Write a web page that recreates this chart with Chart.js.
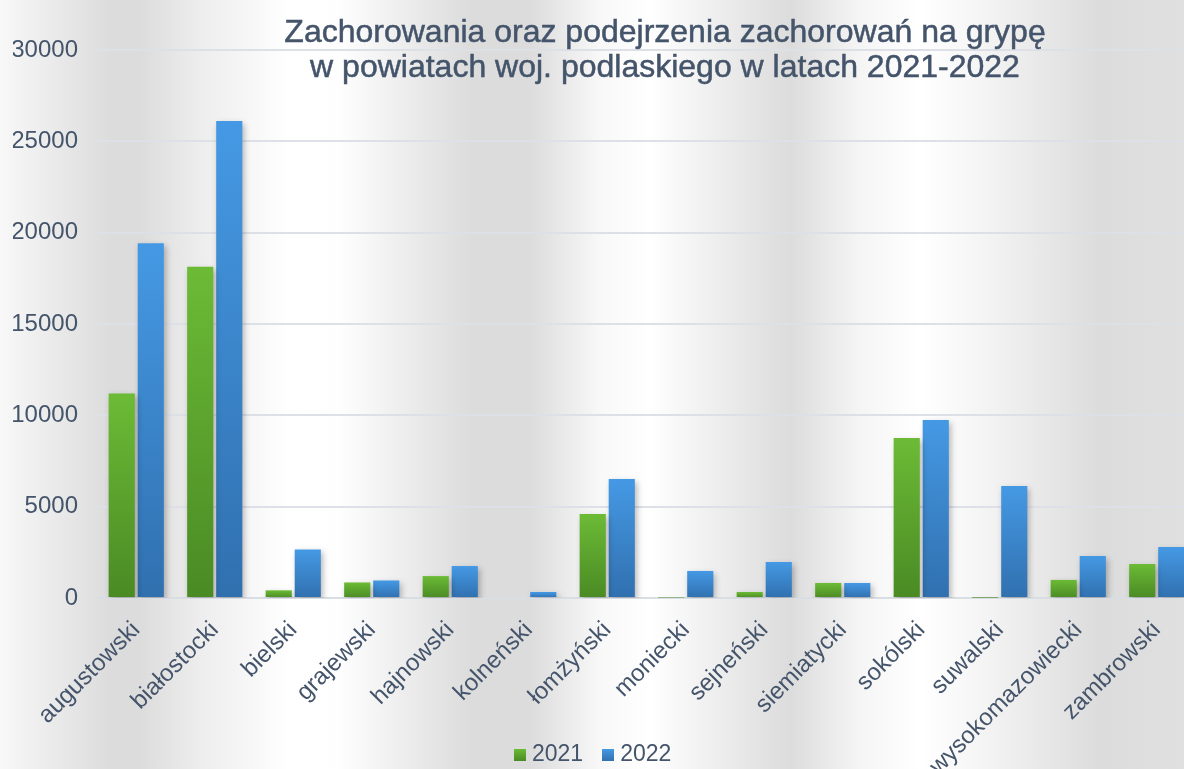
<!DOCTYPE html>
<html>
<head>
<meta charset="utf-8">
<script src="https://cdn.jsdelivr.net/npm/chart.js@4/dist/chart.umd.min.js"></script>
<style>
  html, body { margin: 0; padding: 0; overflow: hidden; }
  body {
    width: 1184px; height: 769px; position: relative;
    background: linear-gradient(90deg, #f8f8f8 0px, #dcdcdc 110px, #dcdcdc 140px, #ececec 195px,
      #ffffff 290px, #fefefe 340px, #dcdcdc 470px, #dcdcdc 530px, #f8f8f8 600px, #ffffff 650px,
      #f2f2f2 700px, #dcdcdc 790px, #f5f5f5 860px, #ffffff 920px, #f5f5f5 980px,
      #dcdcdc 1100px, #e0e0e0 1184px);
    font-family: "Liberation Sans", Arial, sans-serif; color: #44546a;
  }
  #wrap { position: absolute; left: 0; top: 0; width: 1196px; height: 769px; }
  #title {
    position: absolute; left: 0; top: 14px; width: 1330px; text-align: center;
    font-size: 32px; line-height: 35px;
    -webkit-text-stroke: 0.5px #44546a; z-index: 2; pointer-events: none;
  }
  #legend {
    position: absolute; left: 514px; top: 739px; height: 28px; font-size: 23px; line-height: 28px;
    white-space: nowrap; z-index: 2;
  }
  #legend span.item { display: inline-block; margin-right: 19px; }
  #legend i { display: inline-block; width: 12px; height: 12px; margin-right: 6px; vertical-align: 0px; }
</style>
</head>
<body>
<div id="title">Zachorowania oraz podejrzenia zachorowań na grypę<br>w powiatach woj. podlaskiego w latach 2021-2022</div>
<div id="wrap"><canvas id="chart"></canvas></div>
<div id="legend"></div>
<script>
const categories = ["augustowski", "białostocki", "bielski", "grajewski", "hajnowski", "kolneński",
  "łomżyński", "moniecki", "sejneński", "siemiatycki", "sokólski", "suwalski", "wysokomazowiecki", "zambrowski"];
const seriesNames = ["2021", "2022"];
const values2021 = [11200, 18130, 420, 850, 1200, 0, 4600, 30, 330, 820, 8760, 20, 990, 1860];
const values2022 = [19420, 26110, 2660, 960, 1750, 330, 6510, 1480, 1970, 820, 9740, 6130, 2300, 2790];
const yTicks = [0, 5000, 10000, 15000, 20000, 25000, 30000];

const colors = [['#6cbb36', '#4a8a24'], ['#4599e4', '#3070af']];

function barGradient(top, bottom) {
  return function(context) {
    const chart = context.chart;
    const y = chart.scales.y;
    if (!y || context.raw === undefined) return top;
    const yTop = y.getPixelForValue(context.raw);
    const yBase = y.getPixelForValue(0);
    if (!isFinite(yTop) || yBase - yTop < 1) return bottom;
    const g = chart.ctx.createLinearGradient(0, yTop, 0, yBase);
    g.addColorStop(0, top);
    g.addColorStop(1, bottom);
    return g;
  };
}

const shadowPlugin = {
  id: 'barShadow',
  beforeDatasetsDraw(chart) {
    const ctx = chart.ctx;
    ctx.save();
    ctx.shadowColor = 'rgba(0,0,0,0.28)';
    ctx.shadowBlur = 6;
    ctx.shadowOffsetX = 2;
    ctx.shadowOffsetY = 3;
  },
  afterDatasetsDraw(chart) {
    chart.ctx.restore();
  }
};

const textColor = '#44546a';

// legend drawn as html so the rotated labels can run under it, like in the original
document.getElementById('legend').innerHTML = seriesNames.map((name, i) =>
  '<span class="item"><i style="background:linear-gradient(' + colors[i][0] + ',' + colors[i][1] + ')"></i>' + name + '</span>'
).join('');

new Chart(document.getElementById('chart'), {
  type: 'bar',
  data: {
    labels: categories,
    datasets: [{
      label: seriesNames[0],
      data: values2021,
      backgroundColor: barGradient(colors[0][0], colors[0][1]),
      categoryPercentage: 0.74,
      barPercentage: 0.9
    }, {
      label: seriesNames[1],
      data: values2022,
      backgroundColor: barGradient(colors[1][0], colors[1][1]),
      categoryPercentage: 0.74,
      barPercentage: 0.9
    }]
  },
  options: {
    responsive: true,
    maintainAspectRatio: false,
    animation: false,
    layout: { padding: { top: 50, left: 13, right: 0, bottom: 0 } },
    plugins: {
      title: { display: false },
      tooltip: { enabled: false },
      legend: { display: false }
    },
    scales: {
      x: {
        grid: { display: false, drawTicks: false },
        border: { display: true, color: '#d9dee5', width: 2 },
        afterFit(axis) {
          axis.height = 171;
          axis.paddingLeft = 0;
          axis.paddingRight = 0;
        },
        ticks: {
          color: textColor,
          font: { family: 'Liberation Sans', size: 24 },
          minRotation: 45,
          maxRotation: 45,
          autoSkip: false,
          padding: 18
        }
      },
      y: {
        min: 0,
        max: 30000,
        afterBuildTicks(axis) { axis.ticks = yTicks.map(v => ({ value: v })); },
        afterFit(axis) { axis.width = 84; },
        grid: { color: '#dde1e7', lineWidth: 2, drawTicks: false },
        border: { display: false },
        ticks: {
          color: textColor,
          font: { family: 'Liberation Sans', size: 24 },
          padding: 19,
          callback: v => String(v)
        }
      }
    }
  },
  plugins: [shadowPlugin]
});
</script>
</body>
</html>
